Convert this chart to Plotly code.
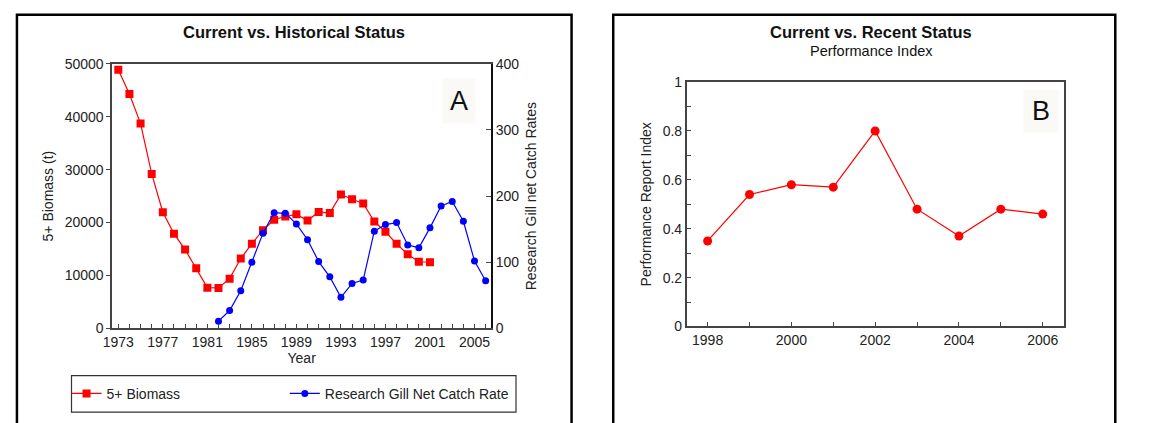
import plotly.graph_objects as go

# ---------------- data ----------------
years_bio = list(range(1973, 2002))
biomass = [48900, 44300, 38700, 29200, 21950, 17900, 14900, 11350, 7700, 7650,
           9400, 13200, 16000, 18550, 20550, 21150, 21550, 20400, 22000, 21800,
           25300, 24400, 23600, 20200, 18250, 16000, 14000, 12600, 12500]

years_gill = list(range(1982, 2007))
gill_rate = [11, 27, 57, 100, 144, 175, 174, 158, 134, 101, 78, 47, 68, 73,
             147, 157, 160, 126, 122, 152, 185, 192, 162, 102, 72]

years_pi = list(range(1998, 2007))
perf_index = [0.35, 0.54, 0.58, 0.57, 0.80, 0.48, 0.37, 0.48, 0.46]

x_ticks_a = list(range(1973, 2006, 4))
y_ticks_a = [0, 10000, 20000, 30000, 40000, 50000]
y_ticklabels_a = ["0", "10000", "20000", "30000", "40000", "50000"]
y2_ticks_a = [0, 100, 200, 300, 400]
x_ticks_b = [1998, 2000, 2002, 2004, 2006]
y_ticks_b = [0, 0.2, 0.4, 0.6, 0.8, 1]
y_ticklabels_b = ["0", "0.2", "0.4", "0.6", "0.8", "1"]

W, H = 1151, 423
def px(x):
    return x / W
def py(y):
    return 1 - y / H

FONT = "Liberation Sans, Arial, sans-serif"
AX = "#444444"

fig = go.Figure()

fig.add_trace(go.Scatter(
    x=years_bio, y=biomass, name="5+ Biomass", mode="lines+markers",
    line=dict(color="#ff0000", width=1.2),
    marker=dict(symbol="square", size=8, color="#ff0000"),
    xaxis="x", yaxis="y", legend="legend"))
fig.add_trace(go.Scatter(
    x=years_gill, y=gill_rate, name="Research Gill Net Catch Rate", mode="lines+markers",
    line=dict(color="#0000ff", width=1.2),
    marker=dict(symbol="circle", size=7, color="#0000ff"),
    xaxis="x", yaxis="y2", legend="legend2"))
fig.add_trace(go.Scatter(
    x=years_pi, y=perf_index, name="Performance Report Index", mode="lines+markers",
    line=dict(color="#ff0000", width=1.2),
    marker=dict(symbol="circle", size=9, color="#ff0000"),
    xaxis="x3", yaxis="y3", showlegend=False))

tickfont = dict(family=FONT, size=14, color="#222")
titlefont = dict(family=FONT, size=14, color="#222")
legfont = dict(family=FONT, size=14, color="#222")

fig.update_layout(
    width=W, height=H,
    margin=dict(l=0, r=0, t=0, b=0),
    paper_bgcolor="white", plot_bgcolor="white",
    font=dict(family=FONT, size=14, color="#222"),
    showlegend=True,
    xaxis=dict(
        domain=[px(104), px(486)], range=[1972.45, 2006.5],
        tickmode="array", tickvals=x_ticks_a, ticks="inside", ticklen=5,
        tickcolor=AX, tickfont=tickfont,
        minor=dict(dtick=1, tick0=1973, ticks="inside", ticklen=5, tickcolor=AX),
        showline=True, linecolor=AX, linewidth=1.5, mirror=True,
        showgrid=False, zeroline=False, anchor="y",
        title=dict(text="Year", font=titlefont, standoff=0),
    ),
    yaxis=dict(
        domain=[py(333), py(58)], range=[0, 50000],
        tickmode="array", tickvals=y_ticks_a, ticktext=y_ticklabels_a,
        ticks="outside", ticklen=4, tickcolor=AX, tickfont=tickfont,
        showline=True, linecolor=AX, linewidth=1.5,
        showgrid=False, zeroline=False, anchor="x",
        title=dict(text="5+ Biomass (t)", font=titlefont, standoff=8),
    ),
    yaxis2=dict(
        overlaying="y", side="right", range=[0, 400], anchor="x",
        tickmode="array", tickvals=y2_ticks_a, ticks="inside", ticklen=5,
        tickcolor=AX, tickfont=tickfont,
        showline=True, linecolor="#111", linewidth=1.5,
        showgrid=False, zeroline=False,
        title=dict(text="Research Gill net Catch Rates", font=titlefont, standoff=8),
    ),
    xaxis3=dict(
        domain=[px(683), px(1063)], range=[1997.5, 2006.5],
        tickmode="array", tickvals=x_ticks_b, ticks="inside", ticklen=5,
        tickcolor=AX, tickfont=tickfont,
        minor=dict(dtick=1, tick0=1998, ticks="inside", ticklen=5, tickcolor=AX),
        showline=True, linecolor=AX, linewidth=1.5, mirror=True,
        showgrid=False, zeroline=False, anchor="y3",
    ),
    yaxis3=dict(
        domain=[py(331), py(77)], range=[0, 1],
        tickmode="array", tickvals=y_ticks_b, ticktext=y_ticklabels_b,
        ticks="inside", ticklen=5, tickcolor=AX, tickfont=tickfont,
        minor=dict(dtick=0.1, tick0=0, ticks="inside", ticklen=5, tickcolor=AX),
        showline=True, linecolor=AX, linewidth=1.5, mirror=True,
        showgrid=False, zeroline=False, anchor="x3",
        title=dict(text="Performance Report Index", font=titlefont, standoff=8),
    ),
    legend=dict(
        orientation="h", x=px(58), y=py(401), xanchor="left", yanchor="middle",
        borderwidth=0, bgcolor="rgba(0,0,0,0)", font=legfont, itemwidth=30,
    ),
    legend2=dict(
        orientation="h", x=px(278), y=py(401), xanchor="left", yanchor="middle",
        borderwidth=0, bgcolor="rgba(0,0,0,0)", font=legfont, itemwidth=30,
    ),
)

# legend frame
fig.add_shape(type="rect", xref="paper", yref="paper",
              x0=px(63), x1=px(511), y0=py(420), y1=py(382),
              line=dict(color="#333", width=1.2), layer="below")

# panel borders
fig.add_shape(type="rect", xref="paper", yref="paper",
              x0=px(8), x1=px(567), y0=-0.05, y1=py(7),
              line=dict(color="black", width=2.5), layer="above")
fig.add_shape(type="rect", xref="paper", yref="paper",
              x0=px(609), x1=px(1115), y0=-0.05, y1=py(7),
              line=dict(color="black", width=2.5), layer="above")

# titles
fig.add_annotation(text="<b>Current vs. Historical Status</b>", xref="paper", yref="paper",
                   x=px(287), y=py(25), showarrow=False, xanchor="center", yanchor="middle",
                   font=dict(family=FONT, size=16.5, color="#111"))
fig.add_annotation(text="<b>Current vs. Recent Status</b>", xref="paper", yref="paper",
                   x=px(869), y=py(25), showarrow=False, xanchor="center", yanchor="middle",
                   font=dict(family=FONT, size=16.5, color="#111"))
fig.add_annotation(text="Performance Index", xref="paper", yref="paper",
                   x=px(869), y=py(45), showarrow=False, xanchor="center", yanchor="middle",
                   font=dict(family=FONT, size=14.5, color="#111"))

# panel letters
fig.add_annotation(text="A", xref="paper", yref="paper",
                   x=px(454), y=py(97), showarrow=False, xanchor="center", yanchor="middle",
                   font=dict(family=FONT, size=27, color="#111"),
                   bgcolor="#faf9f6", width=30, height=42)
fig.add_annotation(text="B", xref="paper", yref="paper",
                   x=px(1040), y=py(107), showarrow=False, xanchor="center", yanchor="middle",
                   font=dict(family=FONT, size=27, color="#111"),
                   bgcolor="#faf9f6", width=32, height=40)

fig.write_html(
    "out.html",
    config={"displayModeBar": False},
    post_script="document.body.style.margin='0';document.body.style.overflow='hidden';",
)
